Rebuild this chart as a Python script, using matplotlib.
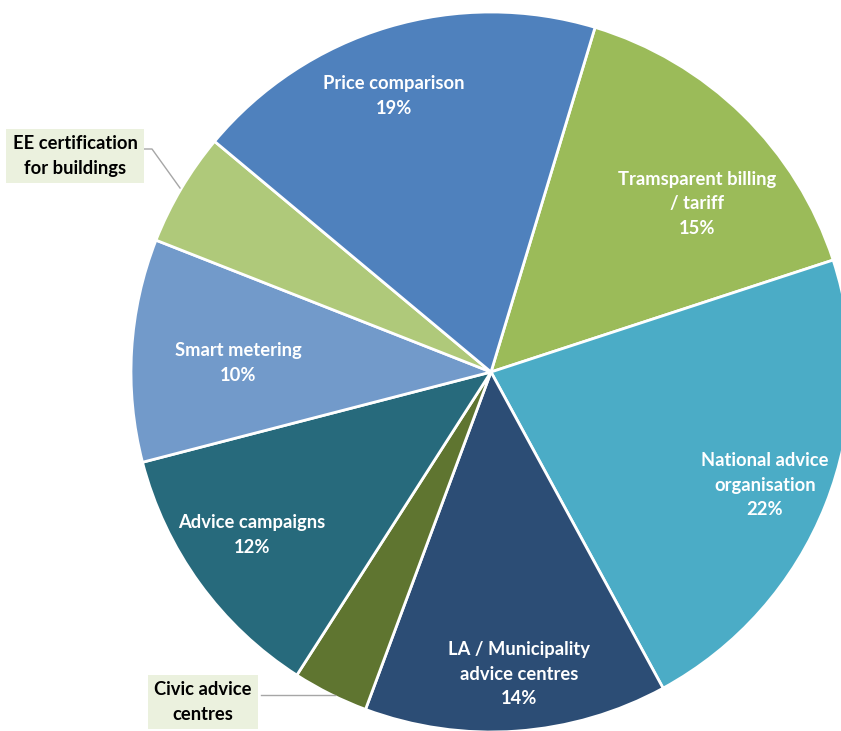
import matplotlib
matplotlib.use("Agg")
import matplotlib.pyplot as plt

categories = ["Transparent billing\n/ tariff", "National advice\norganisation",
              "LA / Municipality\nadvice centres", "Civic advice\ncentres",
              "Advice campaigns", "Smart metering", "EE certification\nfor buildings",
              "Price comparison"]
display_labels = ["Tramsparent billing\n/ tariff", "National advice\norganisation",
                  "LA / Municipality\nadvice centres", "Civic advice\ncentres",
                  "Advice campaigns", "Smart metering", "EE certification\nfor buildings",
                  "Price comparison"]
values = [15.3, 22.1, 13.6, 3.4, 11.9, 10.0, 5.1, 18.6]
colors = ["#9BBB59", "#4BACC6", "#2C4D75", "#5F7530", "#276A7C", "#729ACA",
          "#AFC97A", "#4F81BD"]

W, H = 841, 731
fig = plt.figure(figsize=(W / 100, H / 100), dpi=100)
ax = fig.add_axes([0, 0, 1, 1])

cx, cy, r = 491, H - 372, 360
ax.pie(values, colors=colors, startangle=73.2, counterclock=False,
       center=(cx, cy), radius=r, frame=True,
       wedgeprops=dict(edgecolor="white", linewidth=2))
ax.set_xlim(0, W)
ax.set_ylim(0, H)
ax.set_aspect("equal")
ax.axis("off")

font = "Lato"
fs = 13.2
ls = 1.55
# inside label positions (pixel coords, top-origin)
inside_pos = {0: (697, 204), 1: (765, 485), 2: (519, 674), 4: (252, 535),
              5: (238, 363), 7: (394, 96)}
for i, (x, y) in inside_pos.items():
    txt = display_labels[i] + f"\n{round(values[i])}%"
    ax.text(x, H - y, txt, ha="center", va="center", color="white",
            fontsize=fs, fontweight="bold", family=font, linespacing=ls)

# boxed outside labels
box = dict(boxstyle="square,pad=0.35", facecolor="#EBF1DE", edgecolor="none")
ax.text(75, H - 156, display_labels[6], ha="center", va="center", color="black",
        fontsize=fs, fontweight="bold", family=font, linespacing=ls, bbox=box)
ax.plot([143, 152, 180], [H - 149, H - 149, H - 188], color="#A6A6A6", lw=1)
ax.text(203, H - 702, display_labels[3], ha="center", va="center", color="black",
        fontsize=fs, fontweight="bold", family=font, linespacing=ls, bbox=box)
ax.plot([261, 335], [H - 695, H - 695], color="#A6A6A6", lw=1)

fig.savefig("out.png", dpi=100)
